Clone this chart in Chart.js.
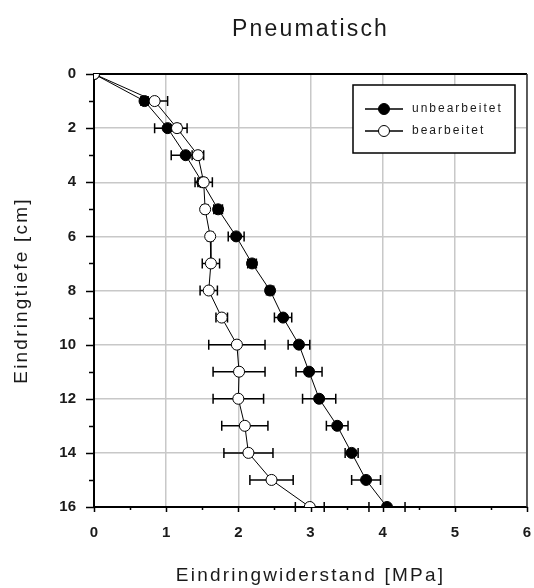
<!DOCTYPE html>
<html>
<head>
<meta charset="utf-8">
<title>Pneumatisch</title>
<script src="https://cdn.jsdelivr.net/npm/chart.js@4/dist/chart.umd.min.js"></script>
<style>
  html, body { margin: 0; padding: 0; background: #fff; }
  #wrap { width: 534px; height: 588px; }
</style>
</head>
<body>
<div id="wrap"><canvas id="chart" width="534" height="588"></canvas></div>
<script>
  // depth steps in cm
  const depth = [0, 1, 2, 3, 4, 5, 6, 7, 8, 9, 10, 11, 12, 13, 14, 15, 16];

  // penetration resistance in MPa, with half-width of the horizontal error bar
  const unbearbeitet    = [0, 0.70, 1.02, 1.27, 1.50, 1.72, 1.97, 2.19, 2.44, 2.62, 2.84, 2.98, 3.12, 3.37, 3.57, 3.77, 4.06];
  const unbearbeitetErr = [0, 0.05, 0.18, 0.20, 0.06, 0.06, 0.11, 0.06, 0.05, 0.12, 0.15, 0.18, 0.23, 0.15, 0.09, 0.20, 0.25];
  const bearbeitet      = [0, 0.84, 1.15, 1.44, 1.52, 1.54, 1.61, 1.62, 1.59, 1.77, 1.98, 2.01, 2.00, 2.09, 2.14, 2.46, 2.99];
  const bearbeitetErr   = [0, 0.18, 0.14, 0.08, 0.12, 0.04, 0.04, 0.12, 0.12, 0.08, 0.39, 0.36, 0.35, 0.32, 0.34, 0.30, 0.20];

  const xTicks = [0, 1, 2, 3, 4, 5, 6];
  const yTicks = [0, 2, 4, 6, 8, 10, 12, 14, 16];

  const FONT = '"Liberation Sans", Arial, sans-serif';

  const toPoints = (vals) => vals.map((v, i) => ({ x: v, y: depth[i] }));

  // horizontal error bars, drawn right before each dataset's own line + markers
  const errorBars = {
    id: 'errorBars',
    beforeDatasetDraw(chart, args) {
      const ds = chart.data.datasets[args.index];
      const { ctx, scales: { x, y } } = chart;
      ctx.save();
      ctx.strokeStyle = '#000';
      ctx.lineWidth = 1.5;
      ds.errors.forEach((e, i) => {
        if (!e) return;
        const py = y.getPixelForValue(depth[i]);
        const x0 = x.getPixelForValue(ds.data[i].x - e);
        const x1 = x.getPixelForValue(ds.data[i].x + e);
        ctx.beginPath();
        ctx.moveTo(x0, py); ctx.lineTo(x1, py);
        ctx.moveTo(x0, py - 5); ctx.lineTo(x0, py + 5);
        ctx.moveTo(x1, py - 5); ctx.lineTo(x1, py + 5);
        ctx.stroke();
      });
      ctx.restore();
    }
  };

  // top/right frame plus major and minor tick marks
  const frame = {
    id: 'frame',
    beforeDatasetsDraw(chart) {
      const { ctx, chartArea: a, scales: { x, y } } = chart;
      ctx.save();
      ctx.strokeStyle = '#000';
      ctx.lineWidth = 2;
      ctx.beginPath();
      ctx.moveTo(a.left, a.top); ctx.lineTo(a.right, a.top);
      ctx.stroke();
      ctx.strokeStyle = '#333';
      ctx.lineWidth = 1.5;
      ctx.beginPath();
      ctx.moveTo(a.right, a.top); ctx.lineTo(a.right, a.bottom);
      ctx.stroke();

      ctx.strokeStyle = '#000';
      ctx.lineWidth = 1.5;
      ctx.beginPath();
      for (let v = 0; v <= 16; v++) {
        const py = Math.round(y.getPixelForValue(v)) + 0.5;
        const len = v % 2 === 0 ? 8 : 5;
        ctx.moveTo(a.left - len, py); ctx.lineTo(a.left, py);
      }
      for (let v = 0; v <= 6; v += 0.5) {
        const px = Math.round(x.getPixelForValue(v)) + 0.5;
        const len = Number.isInteger(v) ? 5 : 3;
        ctx.moveTo(px, a.bottom); ctx.lineTo(px, a.bottom + len);
      }
      ctx.stroke();
      ctx.restore();
    }
  };

  function spacedText(ctx, text, x, y, font, spacing) {
    ctx.font = font;
    ctx.letterSpacing = spacing + 'px';
    ctx.fillText(text, x, y);
    ctx.letterSpacing = '0px';
  }

  // chart title, axis titles and the boxed legend
  const labels = {
    id: 'labels',
    afterDraw(chart) {
      const { ctx, chartArea: a } = chart;
      const cx = (a.left + a.right) / 2;
      ctx.save();
      ctx.fillStyle = '#1a1a1a';
      ctx.textAlign = 'center';
      ctx.textBaseline = 'middle';
      spacedText(ctx, 'Pneumatisch', cx, 30, '23px ' + FONT, 2.2);
      spacedText(ctx, 'Eindringwiderstand [MPa]', cx, 576, '19px ' + FONT, 2.2);

      ctx.save();
      ctx.translate(22, (a.top + a.bottom) / 2);
      ctx.rotate(-Math.PI / 2);
      spacedText(ctx, 'Eindringtiefe [cm]', 0, 0, '19px ' + FONT, 2.2);
      ctx.restore();

      // legend box
      const bx = 353, by = 85, bw = 162, bh = 68;
      ctx.fillStyle = '#fff';
      ctx.fillRect(bx, by, bw, bh);
      ctx.strokeStyle = '#000';
      ctx.lineWidth = 1.5;
      ctx.strokeRect(bx, by, bw, bh);

      const entries = chart.data.datasets.slice().reverse();
      entries.forEach((ds, k) => {
        const ly = 109 + k * 22;
        ctx.strokeStyle = '#000';
        ctx.lineWidth = 1.5;
        ctx.beginPath();
        ctx.moveTo(365, ly); ctx.lineTo(403, ly);
        ctx.stroke();
        ctx.beginPath();
        ctx.arc(384, ly, 5.5, 0, Math.PI * 2);
        ctx.fillStyle = ds.pointBackgroundColor;
        ctx.fill();
        ctx.lineWidth = 1;
        ctx.stroke();
        ctx.fillStyle = '#1a1a1a';
        ctx.textAlign = 'left';
        spacedText(ctx, ds.label, 412, ly, '12px ' + FONT, 2);
      });
      ctx.restore();
    }
  };

  new Chart(document.getElementById('chart'), {
    type: 'scatter',
    data: {
      datasets: [
        {
          label: 'bearbeitet',
          data: toPoints(bearbeitet),
          errors: bearbeitetErr,
          order: 1,
          showLine: true,
          borderColor: '#000',
          borderWidth: 1,
          pointRadius: 5.5,
          pointBackgroundColor: '#fff',
          pointBorderColor: '#000',
          pointBorderWidth: 1,
        },
        {
          label: 'unbearbeitet',
          data: toPoints(unbearbeitet),
          errors: unbearbeitetErr,
          order: 2,
          showLine: true,
          borderColor: '#000',
          borderWidth: 1,
          pointRadius: 5.5,
          pointBackgroundColor: '#000',
          pointBorderColor: '#000',
          pointBorderWidth: 1,
        },
      ],
    },
    options: {
      responsive: false,
      animation: false,
      devicePixelRatio: 1,
      layout: { padding: { left: 0, right: 7, top: 74, bottom: 0 } },
      plugins: {
        legend: { display: false },
        tooltip: { enabled: false },
        title: { display: false },
      },
      scales: {
        x: {
          type: 'linear',
          min: 0,
          max: 6,
          afterBuildTicks: (s) => { s.ticks = xTicks.map(v => ({ value: v })); },
          afterFit: (s) => { s.height = 81; s.paddingLeft = 0; s.paddingRight = 0; },
          grid: { color: '#c8c8c8', lineWidth: 1.5, drawTicks: false },
          border: { color: '#000', width: 2 },
          ticks: { padding: 17, color: '#1a1a1a', font: { family: FONT, size: 15, weight: 'bold' } },
        },
        y: {
          type: 'linear',
          reverse: true,
          min: 0,
          max: 16,
          afterBuildTicks: (s) => { s.ticks = yTicks.map(v => ({ value: v })); },
          afterFit: (s) => { s.width = 94; s.paddingTop = 0; s.paddingBottom = 0; },
          grid: { color: '#c8c8c8', lineWidth: 1.5, drawTicks: false },
          border: { color: '#000', width: 2 },
          ticks: { padding: 18, color: '#1a1a1a', font: { family: FONT, size: 15, weight: 'bold' } },
        },
      },
    },
    plugins: [errorBars, frame, labels],
  });
</script>
</body>
</html>
